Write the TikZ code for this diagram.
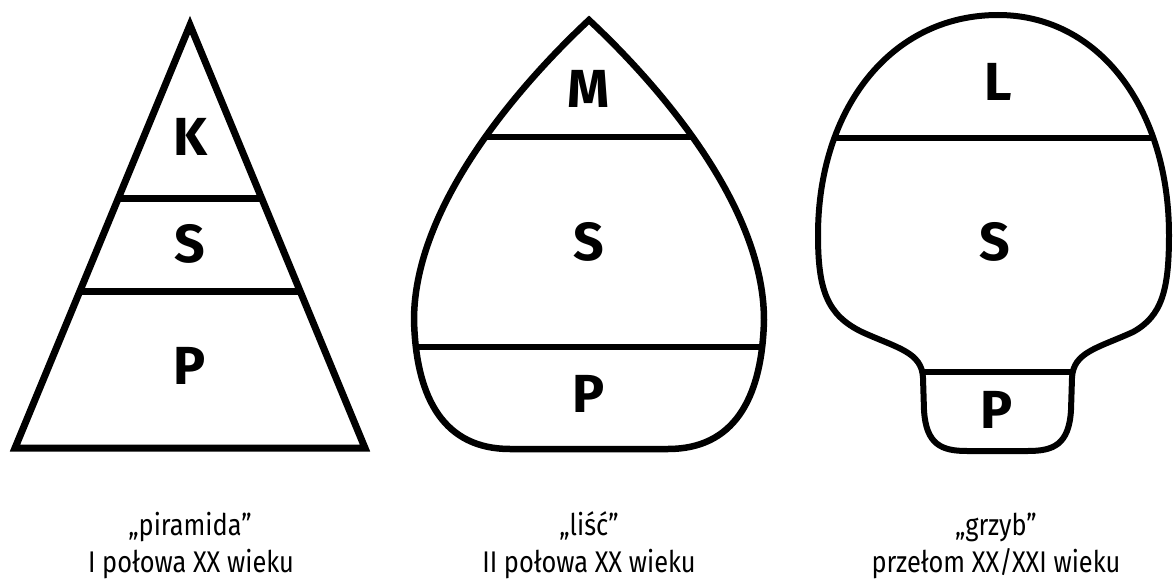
\documentclass[tikz,border=0pt]{standalone}
\usepackage{fontspec}
\usetikzlibrary{calc}
\setmainfont{Fira Sans}
\newfontfamily\capfont[FakeStretch=0.85]{Fira Sans}
\begin{document}
\begin{tikzpicture}[x=0.02cm,y=-0.02cm,
  outline/.style={line width=0.14cm, line join=miter, miter limit=10},
  divline/.style={line width=0.14cm},
  lab/.style={font=\fontsize{30.5}{32}\selectfont\bfseries, inner sep=0pt},
  captxt/.style={font=\capfont\fontsize{17}{19}\selectfont, anchor=base, inner sep=0pt}]
\useasboundingbox (0,0) rectangle (1174,581);

% ---------- pyramid ----------
\coordinate (pa) at (190,25);
\coordinate (pl) at (15,448);
\coordinate (pr) at (365,448);
\draw[outline] (pa) -- (pl) -- (pr) -- cycle;
\coordinate (p1l) at ($(pa)!0.411!(pl)$);
\coordinate (p1r) at ($(pa)!0.411!(pr)$);
\coordinate (p2l) at ($(pa)!0.629!(pl)$);
\coordinate (p2r) at ($(pa)!0.629!(pr)$);
\draw[divline] (p1l) -- (p1r);
\draw[divline] (p2l) -- (p2r);
\node[lab] (pk) at (190,137) {K};
\node[lab] (ps) at (190,244) {S};
\node[lab] (pp) at (190,366) {P};

% ---------- leaf ----------
\draw[outline, line width=0.13cm] (589,20) .. controls (530,75) and (414,200) .. (414,320)
  .. controls (416,400) and (445,449) .. (510,449) -- (668,449)
  .. controls (733,449) and (762,400) .. (764,320)
  .. controls (764,200) and (648,75) .. (589,20) -- cycle;
\coordinate (l1l) at (484,137);
\coordinate (l1r) at (694,137);
\coordinate (l2l) at (415,347);
\coordinate (l2r) at (763,347);
\draw[divline, line width=0.13cm] (l1l) -- (l1r);
\draw[divline, line width=0.13cm] (l2l) -- (l2r);
\node[lab] (lm) at (589,89) {M};
\node[lab] (ls) at (589,242) {S};
\node[lab] (lp) at (589,394) {P};

% ---------- mushroom ----------
\draw[outline, line width=0.12cm] (998,15) .. controls (890,15) and (818,110) .. (818,235)
  .. controls (818,290) and (827,315) .. (862,332)
  .. controls (897,348) and (922,352) .. (923,378)
  -- (924,410) .. controls (926,445) and (942,451) .. (967,451)
  -- (1028,451) .. controls (1053,451) and (1069,445) .. (1071,410)
  -- (1072,378) .. controls (1073,352) and (1098,348) .. (1133,332)
  .. controls (1162,316) and (1169,290) .. (1169,235)
  .. controls (1169,110) and (1100,15) .. (998,15) -- cycle;
\coordinate (m1l) at (834,138);
\coordinate (m1r) at (1155,138);
\coordinate (m2l) at (923,372);
\coordinate (m2r) at (1071,372);
\draw[divline, line width=0.12cm] (m1l) -- (m1r);
\draw[divline, line width=0.12cm] (m2l) -- (m2r);
\node[lab] (ml) at (998,82) {L};
\node[lab] (ms) at (995,242) {S};
\node[lab] (mp) at (997,410) {P};

% ---------- captions ----------
\node[captxt] (c1a) at (190,535) {„piramida”};
\node[captxt] (c1b) at (191,572) {I połowa XX wieku};
\node[captxt] (c2a) at (589,535) {„liść”};
\node[captxt] (c2b) at (589,572) {II połowa XX wieku};
\node[captxt] (c3a) at (996,535) {„grzyb”};
\node[captxt] (c3b) at (996,572) {przełom XX/XXI wieku};
\end{tikzpicture}
\end{document}
